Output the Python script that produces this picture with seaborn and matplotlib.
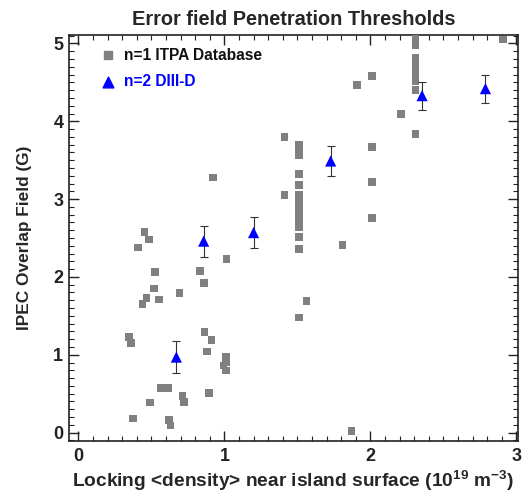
import matplotlib
matplotlib.use("Agg")
import matplotlib.pyplot as plt
import seaborn as sns
import pandas as pd
from matplotlib.ticker import MultipleLocator

itpa_x = [0.452, 0.484, 0.409, 0.523, 0.518, 0.466, 0.438, 0.553, 0.692, 0.831,
          0.861, 1.014, 0.345, 0.361, 0.863, 0.913, 0.881, 1.01, 1.01, 0.995,
          1.01, 0.564, 0.591, 0.616, 0.491, 0.712, 0.724, 0.893, 0.374, 0.621,
          0.632, 0.922, 1.411, 1.411,
          1.51, 1.51, 1.51, 1.51, 1.51, 1.51, 1.51, 1.51, 1.51, 1.51, 1.51, 1.51, 1.51, 1.51, 1.51,
          1.562, 1.81, 1.87, 1.909, 2.01, 2.01, 2.01, 2.01, 2.21,
          2.308, 2.308, 2.308, 2.308, 2.308, 2.308, 2.308, 2.308, 2.308,
          2.91]
itpa_y = [2.58, 2.48, 2.38, 2.06, 1.85, 1.73, 1.65, 1.71, 1.79, 2.08,
          1.92, 2.23, 1.23, 1.15, 1.29, 1.19, 1.04, 0.97, 0.90, 0.86,
          0.80, 0.575, 0.575, 0.575, 0.386, 0.467, 0.395, 0.51, 0.18, 0.158,
          0.09, 3.28, 3.80, 3.05,
          3.70, 3.63, 3.56, 3.32, 3.18, 3.05, 2.97, 2.90, 2.85, 2.78, 2.71, 2.64, 2.51, 2.36, 1.48,
          1.69, 2.41, 0.02, 4.47, 4.58, 3.67, 3.22, 2.76, 4.09,
          5.08, 4.98, 4.81, 4.74, 4.66, 4.59, 4.51, 4.40, 3.84,
          5.05]

d3_x = [0.671, 0.858, 1.20, 1.728, 2.354, 2.788]
d3_y = [0.97, 2.46, 2.57, 3.49, 4.33, 4.42]
d3_err = [0.21, 0.20, 0.20, 0.19, 0.18, 0.18]

title = "Error field Penetration Thresholds"
xlabel = "Locking <density> near island surface (10$^{19}$ m$^{-3}$)"
ylabel = "IPEC Overlap Field (G)"
legend_labels = ["n=1 ITPA Database", "n=2 DIII-D"]

sns.set_style("ticks")
plt.rcParams['font.family'] = ['Liberation Sans', 'DejaVu Sans']
plt.rcParams['mathtext.fontset'] = 'custom'
plt.rcParams['mathtext.rm'] = 'Liberation Sans:bold'
plt.rcParams['mathtext.default'] = 'rm'

fig = plt.figure(figsize=(5.22, 4.99), dpi=100)
ax = fig.add_axes([0.132, 0.116, 0.860, 0.814])

df1 = pd.DataFrame({"x": itpa_x, "y": itpa_y})
df2 = pd.DataFrame({"x": d3_x, "y": d3_y})

sns.scatterplot(data=df1, x="x", y="y", ax=ax, marker="s", s=30, color="#808080",
                edgecolor="none", linewidth=0, zorder=3)
ax.errorbar(d3_x, d3_y, yerr=d3_err, fmt="none", ecolor="#333333", elinewidth=0.8,
            capsize=3, capthick=0.8, zorder=4)
sns.scatterplot(data=df2, x="x", y="y", ax=ax, marker="^", s=65, color="#0000ff",
                edgecolor="none", linewidth=0, zorder=5)

ax.set_xlim(-0.065, 3.01)
ax.set_ylim(-0.11, 5.11)
ax.xaxis.set_major_locator(MultipleLocator(1))
ax.xaxis.set_minor_locator(MultipleLocator(0.1))
ax.yaxis.set_major_locator(MultipleLocator(1))
ax.yaxis.set_minor_locator(MultipleLocator(0.1))
ax.tick_params(which="both", direction="in", top=True, right=True, colors="#222222")
ax.tick_params(which="major", length=7, width=1.0, labelsize=13)
ax.tick_params(axis="y", which="major", pad=4)
ax.tick_params(axis="x", which="major", pad=5)
ax.tick_params(which="minor", length=3.5, width=0.8)
for lab in ax.get_xticklabels() + ax.get_yticklabels():
    lab.set_fontweight("bold")
for sp in ax.spines.values():
    sp.set_linewidth(1.2)
    sp.set_color("#222222")

ax.set_xlabel(xlabel, fontsize=13.8, fontweight="bold", labelpad=3)
ax.set_ylabel(ylabel, fontsize=12.4, fontweight="bold", labelpad=15)
ax.set_title(title, fontsize=14.4, fontweight="bold", pad=7)

# legend entries
ax.scatter([0.205], [4.85], marker="s", s=30, color="#808080", zorder=6)
ax.text(0.31, 4.85, legend_labels[0], fontsize=11.2, fontweight="bold", color="#111111",
        va="center", ha="left")
ax.scatter([0.205], [4.51], marker="^", s=60, color="#0000ff", zorder=6)
ax.text(0.31, 4.51, legend_labels[1], fontsize=11.2, fontweight="bold", color="#0000ff",
        va="center", ha="left")

fig.savefig("out.png", dpi=100)
